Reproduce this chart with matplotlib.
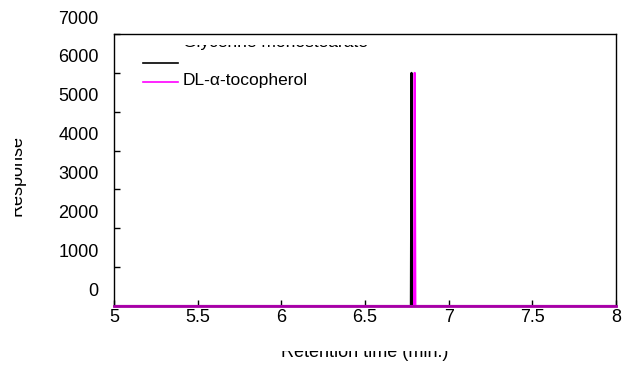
import matplotlib
matplotlib.use("Agg")
import matplotlib.pyplot as plt
from matplotlib.transforms import Bbox, ScaledTranslation

plt.rcParams["font.family"] = ["Liberation Sans", "DejaVu Sans"]

# retention time (min.) and detector response for each trace
glycerine_time = [5.0, 6.774, 6.778, 6.782, 8.0]
glycerine_resp = [0, 0, 6000, 0, 0]
tocopherol_time = [5.0, 6.793, 6.797, 6.801, 8.0]
tocopherol_resp = [0, 0, 6000, 0, 0]
series_names = ["Glycerine monostearate", "DL-\u03b1-tocopherol"]
series_colors = ["#000000", "#FF00FF"]
x_ticks = [5, 5.5, 6, 6.5, 7, 7.5, 8]
x_ticklabels = ["5", "5.5", "6", "6.5", "7", "7.5", "8"]
y_ticks = [0, 1000, 2000, 3000, 4000, 5000, 6000, 7000]

W, H = 631, 367
fig = plt.figure(figsize=(W / 100, H / 100), dpi=100)
ax = fig.add_axes([114 / W, 61 / H, 502 / W, 272 / H])

ax.plot(glycerine_time, glycerine_resp, color=series_colors[0], lw=1.5, label=series_names[0])
ax.plot(tocopherol_time, tocopherol_resp, color=series_colors[1], lw=1.5, label=series_names[1])

ax.set_xlim(5, 8)
ax.set_ylim(0, 7000)
ax.set_xticks(x_ticks)
ax.set_xticklabels(x_ticklabels)
ax.set_yticks(y_ticks)
ax.set_yticklabels([str(v) for v in y_ticks])
ax.tick_params(axis="both", direction="in", length=4, width=1, labelsize=13)
ax.tick_params(axis="x", pad=2)
ax.tick_params(axis="y", pad=11)
for side in ["left", "top", "right"]:
    ax.spines[side].set_linewidth(1.0)
ax.spines["bottom"].set_color("#A400A4")
ax.spines["bottom"].set_linewidth(2.0)
ax.spines["bottom"].set_zorder(3)


def shift(artist, dy_px):
    artist.set_transform(artist.get_transform()
                         + ScaledTranslation(0, dy_px / 100, fig.dpi_scale_trans))


# tick labels sit above their ticks in the original
for lab in ax.get_yticklabels():
    shift(lab, 17)

leg = ax.legend(loc="upper left", bbox_to_anchor=(29 / 502, 1 - 23 / 272), frameon=False,
                fontsize=12.5, handlelength=2.0, handletextpad=0.3, labelspacing=0.2,
                borderpad=0, borderaxespad=0)
for h in leg.get_lines():
    h.set_linewidth(1.2)
t0, t1 = leg.get_texts()
shift(t0, 22)
shift(t1, 3)
# the first entry is only partly visible in the original
t0.set_clip_on(True)
t0.set_clip_box(Bbox([[150, H - 60], [420, H - 45]]))

ylab = ax.set_ylabel("Response", fontsize=13)
ax.yaxis.set_label_coords((26 - 114) / 502, (306 - 175) / 272)
ylab.set_clip_on(True)
ylab.set_clip_box(Bbox([[15, 0], [60, H]]))

xlab = ax.set_xlabel("Retention time (min.)", fontsize=13, labelpad=13)
xlab.set_clip_on(True)
xlab.set_clip_box(Bbox([[0, 0], [W, H - 351]]))

fig.savefig("out.png", dpi=100)
